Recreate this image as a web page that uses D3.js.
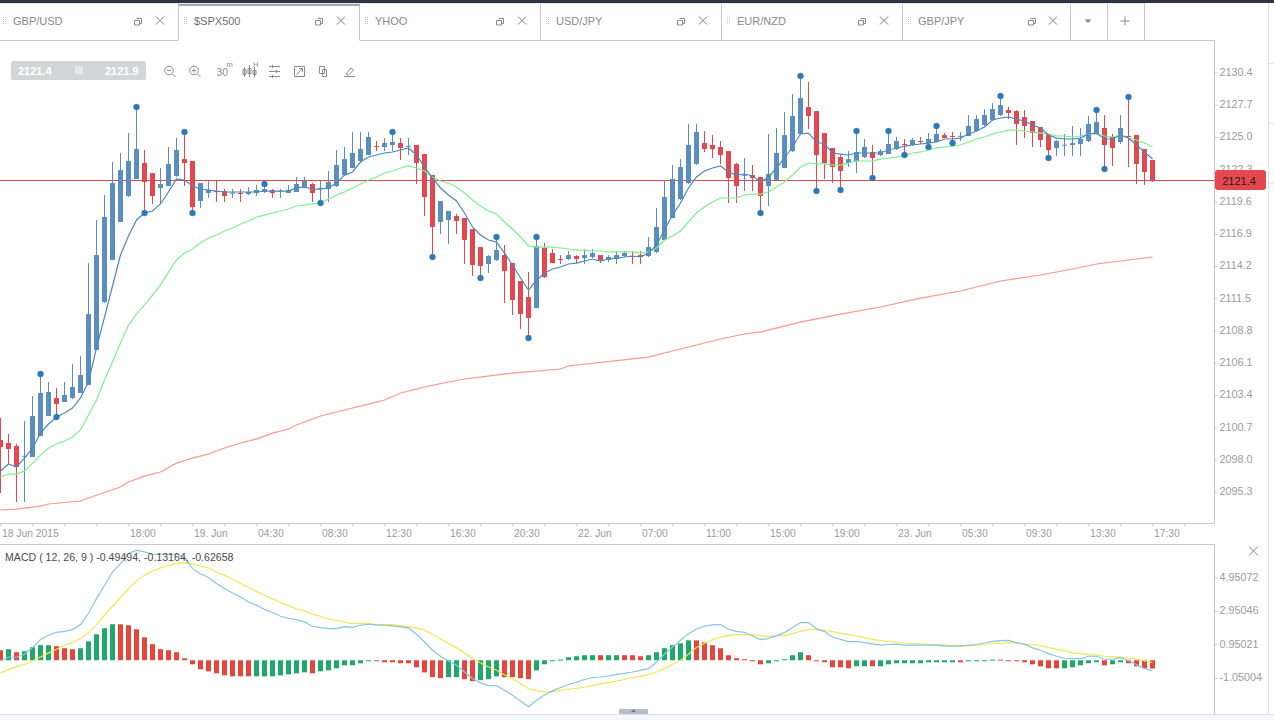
<!DOCTYPE html>
<html>
<head>
<meta charset="utf-8">
<title>$SPX500 chart</title>
<script src="https://cdn.jsdelivr.net/npm/d3@7/dist/d3.min.js"></script>
<style>
html,body{margin:0;padding:0;background:#fff;overflow:hidden}
svg{display:block}
text{font-family:"Liberation Sans",Arial,sans-serif;font-size:11px}
</style>
</head>
<body>
<svg id="screen" width="1274" height="720"></svg>
<script>
// Candle series, one entry per bar
const opens = [
2099.62,2099.37,2099.12,2098.28,2098.20,2099.95,2101.63,2103.14,2102.80,2103.14,
2103.56,2104.23,2107.16,2111.18,2114.70,2117.88,2120.06,2121.48,2122.82,2121.98,
2120.73,2120.89,2121.73,2123.15,2122.99,2119.64,2120.31,2120.47,2120.47,2120.31,
2120.31,2120.22,2120.31,2120.39,2120.56,2120.47,2120.31,2120.39,2120.73,2121.06,
2120.73,2120.64,2120.89,2121.81,2122.40,2122.99,2123.49,2124.24,2124.16,2124.33,
2124.49,2124.24,2124.33,2123.57,2121.81,2117.88,2118.05,2118.38,2118.21,2117.29,
2115.78,2114.36,2114.70,2115.11,2114.44,2112.94,2111.60,2110.67,2115.70,2115.28,
2114.78,2114.78,2115.03,2114.86,2114.95,2115.11,2114.70,2114.78,2115.03,2115.03,
2115.11,2115.03,2115.37,2116.37,2118.21,2119.80,2121.14,2122.74,2124.49,2124.33,
2124.16,2123.82,2122.74,2121.81,2121.81,2121.65,2120.89,2121.40,2122.40,2123.82,
2125.25,2127.51,2127.17,2125.33,2124.08,2123.32,2122.82,2122.99,2123.32,2123.74,
2123.49,2123.57,2123.99,2124.41,2124.33,2124.66,2124.49,2124.58,2125.16,2125.08,
2125.08,2125.08,2125.50,2126.00,2126.42,2126.84,2127.26,2127.17,2126.67,2126.34,
2125.83,2125.25,2124.08,2124.33,2124.33,2124.41,2124.66,2125.25,2125.75,2125.00,
2124.58,2125.08,2125.16,2123.99,2123.07];
const highs = [
2101.46,2100.12,2099.29,2101.21,2103.31,2105.15,2104.48,2103.98,2104.48,2105.99,
2106.65,2114.44,2118.05,2120.14,2122.90,2123.66,2125.33,2127.51,2123.91,2121.98,
2122.40,2124.16,2124.91,2125.42,2122.99,2121.14,2121.31,2121.40,2120.64,2120.64,
2120.64,2120.81,2120.98,2121.06,2120.64,2120.64,2120.98,2121.65,2121.65,2121.14,
2121.31,2122.15,2123.91,2124.16,2125.42,2125.42,2125.42,2124.66,2124.91,2125.42,
2124.91,2124.91,2124.33,2123.57,2121.81,2119.64,2118.80,2118.55,2118.21,2117.29,
2115.78,2115.11,2116.62,2115.95,2114.44,2112.94,2113.69,2116.62,2116.12,2115.62,
2115.11,2115.45,2115.11,2115.62,2115.62,2115.11,2115.11,2115.45,2115.45,2115.45,
2115.45,2116.62,2119.05,2121.40,2122.65,2123.15,2126.09,2126.09,2125.50,2125.16,
2124.66,2123.82,2122.82,2123.24,2122.65,2121.65,2125.25,2125.75,2127.09,2128.60,
2130.11,2129.60,2127.17,2125.33,2124.08,2123.49,2123.82,2125.50,2124.83,2124.33,
2123.99,2125.50,2125.00,2124.83,2124.91,2125.00,2125.33,2125.92,2125.33,2125.42,
2125.42,2126.84,2126.84,2127.34,2127.84,2128.43,2127.51,2127.26,2127.26,2126.34,
2125.83,2125.25,2124.75,2125.25,2125.92,2125.75,2126.76,2127.26,2126.84,2125.25,
2126.84,2128.35,2125.16,2123.99,2123.07];
const lows = [
2095.18,2097.61,2094.43,2094.43,2098.20,2099.95,2101.63,2101.55,2102.80,2103.05,
2103.56,2104.23,2107.16,2111.09,2114.70,2117.88,2119.97,2121.48,2118.63,2119.39,
2119.47,2120.89,2121.65,2120.89,2118.63,2119.05,2119.89,2119.55,2119.55,2119.89,
2119.55,2120.14,2120.06,2120.31,2119.89,2119.89,2120.31,2120.39,2120.73,2119.55,
2119.47,2119.55,2120.81,2121.81,2122.40,2122.82,2123.49,2123.82,2123.82,2123.82,
2123.07,2123.49,2121.06,2118.38,2114.95,2116.87,2116.04,2116.87,2114.36,2113.36,
2113.19,2113.61,2114.61,2111.09,2110.09,2108.92,2108.16,2110.67,2113.19,2114.44,
2114.36,2114.70,2114.44,2114.36,2114.86,2114.44,2114.53,2114.36,2114.95,2114.36,
2114.36,2114.95,2115.28,2116.37,2118.21,2119.72,2121.06,2122.65,2123.74,2123.24,
2122.74,2119.47,2119.47,2120.47,2120.47,2118.63,2119.22,2121.31,2122.40,2123.74,
2125.25,2125.67,2120.47,2121.48,2121.14,2120.56,2122.48,2121.98,2123.24,2121.56,
2123.41,2123.57,2123.91,2123.49,2124.24,2124.41,2124.16,2124.58,2124.91,2124.49,
2124.66,2125.08,2125.42,2125.92,2126.34,2126.76,2126.50,2124.33,2124.91,2124.16,
2124.16,2123.24,2123.41,2123.41,2123.41,2123.41,2124.58,2125.25,2122.32,2122.57,
2124.41,2122.48,2121.06,2120.98,2121.23];
const closes = [
2099.03,2098.87,2097.36,2098.30,2101.63,2103.56,2103.64,2102.64,2103.39,2104.06,
2105.06,2110.17,2115.11,2118.30,2121.14,2122.23,2122.99,2123.99,2121.23,2120.06,
2121.06,2122.74,2123.91,2122.82,2119.13,2121.14,2120.56,2120.39,2120.06,2120.33,
2120.31,2120.39,2120.56,2120.64,2120.31,2120.49,2120.56,2121.06,2121.31,2120.31,
2120.75,2121.23,2122.65,2123.15,2123.66,2123.99,2125.00,2124.24,2124.49,2124.58,
2124.08,2124.26,2122.82,2119.97,2117.46,2119.64,2118.80,2117.96,2116.37,2114.28,
2114.19,2115.03,2115.53,2113.77,2111.35,2110.17,2109.84,2115.87,2113.27,2114.44,
2114.78,2115.11,2114.78,2115.11,2115.28,2114.70,2114.95,2115.11,2115.28,2115.03,
2114.95,2115.78,2117.46,2119.97,2121.48,2122.48,2124.33,2125.42,2123.99,2123.99,
2123.49,2121.56,2120.89,2121.83,2121.56,2120.06,2121.90,2123.66,2125.16,2126.76,
2128.26,2126.76,2123.49,2122.82,2122.48,2122.15,2123.15,2123.74,2124.16,2123.24,
2123.82,2124.41,2124.66,2124.41,2124.75,2124.66,2124.83,2125.25,2124.91,2125.08,
2125.10,2125.92,2126.50,2126.84,2127.34,2127.68,2127.01,2126.09,2125.92,2125.33,
2124.75,2123.91,2124.66,2124.35,2124.49,2124.83,2126.09,2126.25,2124.33,2124.08,
2125.75,2125.08,2122.74,2122.07,2121.40];

// Bars that carry a fractal marker above the high or below the low
const pivotHighs = [5,17,23,33,49,62,67,100,107,111,117,125,137,141];
const pivotLows = [7,18,24,40,54,60,66,95,102,105,109,113,116,119,131,138];

// Moving averages, one value per bar
const fastAverage = [
2097.03,2097.61,2097.36,2098.11,2098.95,2100.20,2100.96,2101.55,2101.88,2102.30,
2103.14,2104.48,2107.33,2109.92,2112.52,2115.11,2116.71,2118.05,2118.63,2118.80,
2119.39,2120.39,2121.48,2121.40,2120.89,2120.64,2120.56,2120.47,2120.39,2120.39,
2120.39,2120.39,2120.39,2120.47,2120.47,2120.47,2120.47,2120.73,2120.81,2120.64,
2120.64,2120.73,2121.14,2121.81,2122.07,2122.90,2123.32,2123.49,2123.66,2123.74,
2123.91,2124.08,2123.49,2122.48,2121.56,2120.73,2120.14,2119.64,2118.63,2117.46,
2116.79,2116.37,2116.20,2115.28,2114.28,2113.19,2112.18,2113.02,2113.61,2113.94,
2114.11,2114.36,2114.44,2114.61,2114.78,2114.61,2114.78,2114.86,2114.95,2115.03,
2114.95,2115.28,2115.95,2117.21,2118.46,2119.47,2120.73,2121.65,2122.15,2122.40,
2122.57,2122.07,2121.81,2121.90,2121.73,2121.23,2121.65,2122.40,2123.24,2124.16,
2125.25,2125.33,2124.58,2124.41,2123.66,2123.57,2123.49,2123.66,2123.66,2123.66,
2123.66,2123.91,2124.08,2124.24,2124.33,2124.41,2124.49,2124.58,2124.83,2124.83,
2124.91,2125.25,2125.50,2125.83,2126.42,2126.59,2126.67,2126.50,2126.34,2126.00,
2125.75,2125.16,2124.91,2124.83,2124.83,2124.91,2125.25,2125.33,2124.83,2124.83,
2125.16,2124.91,2124.33,2123.74,2123.15];
const slowAverage = [
2096.52,2096.77,2096.77,2097.03,2097.69,2098.36,2098.95,2099.29,2099.54,2099.87,
2100.46,2101.71,2102.97,2104.64,2106.15,2107.74,2109.25,2110.17,2110.93,2111.76,
2112.60,2113.69,2114.70,2115.28,2115.62,2116.12,2116.54,2116.79,2117.12,2117.38,
2117.71,2117.96,2118.30,2118.46,2118.63,2118.80,2118.97,2119.22,2119.30,2119.39,
2119.47,2119.80,2120.14,2120.39,2120.73,2121.06,2121.40,2121.65,2121.98,2122.15,
2122.40,2122.57,2122.40,2122.15,2121.65,2121.31,2121.14,2120.81,2120.31,2119.72,
2119.22,2118.80,2118.55,2117.88,2117.29,2116.62,2115.87,2115.78,2115.78,2115.78,
2115.70,2115.62,2115.53,2115.53,2115.45,2115.45,2115.37,2115.37,2115.37,2115.37,
2115.28,2115.37,2115.70,2116.37,2116.71,2117.12,2117.88,2118.63,2119.13,2119.55,
2119.89,2119.89,2119.89,2120.14,2120.22,2120.22,2120.39,2120.81,2121.23,2121.81,
2122.48,2122.82,2122.74,2122.74,2122.65,2122.65,2122.82,2122.99,2122.99,2122.99,
2123.15,2123.24,2123.32,2123.41,2123.66,2123.74,2123.91,2124.08,2124.16,2124.24,
2124.33,2124.58,2124.83,2125.00,2125.25,2125.42,2125.58,2125.58,2125.50,2125.42,
2125.33,2125.25,2125.08,2125.08,2125.00,2125.08,2125.25,2125.25,2125.08,2125.00,
2125.16,2124.91,2124.75,2124.49,2124.16];
// The long average is read at these bars only
const longAverageBars = [0,2,5,6,10,11,15,16,18,20,22,24,26,28,30,32,34,36,37,40,44,46,48,50,53,56,58,64,70,71,81,83,90,93,95,100,105,110,115,120,125,130,134,137,144];
const longAverage = [
2093.76,2093.84,2094.09,2094.26,2094.51,2094.76,2095.68,2096.10,2096.60,2096.94,
2097.69,2098.11,2098.45,2098.95,2099.37,2099.70,2100.20,2100.54,2100.88,2101.63,
2102.30,2102.63,2102.97,2103.56,2104.06,2104.48,2104.73,2105.23,2105.57,2105.82,2106.57,
2106.91,2108.08,2108.50,2108.67,2109.50,2110.17,2110.76,2111.51,2112.10,2112.94,
2113.44,2113.94,2114.36,2114.95];

// MACD (12, 26, 9) indicator series
const histogram = [
0.60,0.66,0.48,0.54,0.78,0.90,0.90,0.84,0.72,0.66,
0.72,1.13,1.55,1.91,2.15,2.15,2.09,1.85,1.37,0.96,
0.66,0.60,0.48,0.12,-0.24,-0.54,-0.66,-0.78,-0.90,-0.96,
-0.96,-0.96,-0.96,-0.96,-0.96,-0.90,-0.84,-0.78,-0.72,-0.78,
-0.66,-0.60,-0.48,-0.30,-0.30,-0.18,-0.06,-0.06,-0.12,-0.12,
-0.18,-0.18,-0.42,-0.72,-1.01,-1.07,-1.01,-1.01,-1.13,-1.25,
-1.19,-1.13,-0.96,-1.01,-1.01,-1.07,-1.13,-0.60,-0.24,-0.06,
0.04,0.18,0.24,0.30,0.30,0.30,0.30,0.30,0.30,0.30,
0.24,0.30,0.48,0.72,0.90,1.01,1.19,1.19,1.07,0.90,
0.72,0.30,0.12,0.06,-0.06,-0.24,-0.18,-0.06,0.06,0.30,
0.48,0.30,-0.06,-0.12,-0.42,-0.42,-0.48,-0.36,-0.36,-0.36,
-0.36,-0.24,-0.18,-0.18,-0.18,-0.18,-0.12,-0.12,-0.12,-0.12,
-0.12,-0.04,-0.04,-0.04,0.04,0.04,-0.04,-0.06,-0.12,-0.24,
-0.36,-0.48,-0.48,-0.48,-0.42,-0.30,-0.18,-0.12,-0.30,-0.24,
-0.12,-0.18,-0.36,-0.48,-0.49494];
// 1 marks a green histogram bar, 0 a red one
const histogramGreen = [
0,1,0,1,1,1,1,0,0,0,1,1,1,1,1,0,0,0,0,0,
0,0,0,0,0,0,0,0,0,0,0,0,1,1,1,1,1,1,1,0,
1,1,1,1,1,1,1,0,0,0,0,0,0,0,0,0,1,1,0,0,
1,1,1,0,0,0,0,1,1,1,1,1,1,1,1,0,1,1,0,0,
0,1,1,1,1,1,1,0,0,0,0,0,0,0,0,0,1,1,1,1,
1,0,0,0,0,0,0,1,1,0,1,1,1,1,1,1,1,1,1,1,
0,1,1,1,1,0,0,0,0,0,0,0,0,1,1,1,1,1,0,1,
1,0,0,0,0];
const macdLine = [
-0.04,0.18,0.18,0.36,0.76,1.23,1.49,1.67,1.73,1.83,
2.13,2.79,3.68,4.48,5.27,5.77,6.37,6.57,6.47,6.33,
6.33,6.33,6.33,6.13,5.47,5.17,4.94,4.58,4.28,4.02,
3.78,3.48,3.28,3.04,2.85,2.63,2.51,2.43,2.29,2.03,
1.95,1.89,1.89,2.01,1.97,2.09,2.15,2.11,2.09,2.05,
1.99,1.93,1.55,1.09,0.60,0.24,-0.04,-0.30,-0.70,-1.09,
-1.35,-1.51,-1.51,-1.79,-2.09,-2.43,-2.77,-2.39,-2.07,-1.83,
-1.63,-1.45,-1.31,-1.15,-1.03,-1.00,-0.94,-0.84,-0.78,-0.70,
-0.60,-0.50,-0.10,0.36,0.80,1.19,1.59,1.87,2.03,2.11,
2.13,1.85,1.73,1.67,1.45,1.23,1.29,1.47,1.65,1.95,
2.25,2.25,1.89,1.71,1.39,1.25,1.11,1.11,1.05,0.98,
0.90,0.94,0.96,0.90,0.90,0.90,0.90,0.90,0.84,0.84,
0.84,0.90,0.94,1.03,1.13,1.17,1.19,1.05,0.96,0.74,
0.60,0.40,0.24,0.12,0.10,0.10,0.24,0.24,0.06,0.06,
0.16,-0.02,-0.26,-0.50,-0.62658];
const signalLine = [
-0.76,-0.56,-0.38,-0.24,-0.04,0.20,0.44,0.66,0.90,1.09,
1.29,1.65,2.13,2.69,3.22,3.74,4.28,4.74,5.07,5.33,
5.51,5.67,5.77,5.83,5.73,5.63,5.51,5.27,5.07,4.84,
4.58,4.34,4.10,3.88,3.68,3.46,3.26,3.06,2.95,2.75,
2.63,2.45,2.39,2.27,2.19,2.19,2.19,2.13,2.13,2.13,
2.07,2.01,1.93,1.79,1.55,1.29,1.00,0.74,0.44,0.10,
-0.16,-0.40,-0.60,-0.86,-1.09,-1.39,-1.69,-1.83,-1.89,-1.87,
-1.79,-1.73,-1.67,-1.61,-1.51,-1.41,-1.33,-1.25,-1.15,-1.03,
-0.96,-0.84,-0.70,-0.50,-0.24,0.00,0.36,0.76,1.00,1.23,
1.39,1.49,1.53,1.53,1.53,1.47,1.41,1.47,1.47,1.59,
1.73,1.83,1.83,1.79,1.71,1.59,1.53,1.45,1.37,1.25,
1.17,1.11,1.09,1.03,1.00,0.98,0.94,0.92,0.92,0.86,
0.86,0.86,0.90,0.94,1.00,1.00,1.05,1.00,0.96,0.94,
0.88,0.76,0.66,0.56,0.44,0.38,0.34,0.32,0.24,0.20,
0.20,0.12,0.08,-0.04,-0.13164];

// Axis tick values and labels
const priceTicks = [2095.3,2098.0,2100.7,2103.4,2106.1,2108.8,2111.5,2114.2,2116.9,2119.6,2122.3,2125.0,2127.7,2130.4];
const macdTicks = [-1.05004,0.95021,2.95046,4.95072];
const timeLabelBars = [0,16,24,32,40,48,56,64,72,80,88,96,104,112,120,128,136,144];
const timeLabels = ["18 Jun 2015","18:00","19. Jun","04:30","08:30","12:30","16:30","20:30","22. Jun","07:00","11:00","15:00","19:00","23. Jun","05:30","09:30","13:30","17:30"];
const timeTickBars = d3.range(0,149,4);

const lastPrice = 2121.4;
const askPrice = 2121.9;
const tabNames = ["GBP/USD","$SPX500","YHOO","USD/JPY","EUR/NZD","GBP/JPY"];
const activeTab = 1;

const COLORS = {
  border:"#c5c8ce", axisText:"#9b9b9b", tabText:"#8a8a8a", icon:"#8c8c8c",
  up:"#5b8ec0", down:"#e5474f", pivot:"#2e77b8",
  fast:"#4c88be", slow:"#7cf08c", long:"#f9958c",
  macd:"#86c6e0", signal:"#efe653", barGreen:"#1fa968", barRed:"#e6453a"
};

const svg = d3.select("#screen");

// Indicator numbers are printed with a plain hyphen for the sign
const plainLocale = d3.formatLocale({decimal:".",thousands:",",grouping:[3],currency:["$",""],minus:"-"});
const fmt1 = plainLocale.format(".1f");
const fmt5 = plainLocale.format(".5f");

// Shared scales: bar index to x, price and indicator values to y
const x = d3.scaleLinear().domain([0,144]).range([0.5,1152.5]);
const y = d3.scaleLinear().domain([2095.3,2130.4]).range([491.6,72.5]);
const my = d3.scaleLinear().domain([-1.05004,4.95072]).range([677.85,577.35]);
const crisp = v => Math.round(v) + 0.5;

// ---------- Window chrome ----------
const chrome = svg.append("g");
chrome.append("rect").attr("width",1274).attr("height",3).attr("fill","#2e3442");
chrome.append("rect").attr("y",714).attr("width",1274).attr("height",6).attr("fill","#f4f7fb");

function hLine(g, x1, x2, yy, c){ g.append("line").attr("x1",x1).attr("x2",x2).attr("y1",yy).attr("y2",yy).attr("stroke",c||COLORS.border); }
function vLine(g, xx, y1, y2, c){ g.append("line").attr("x1",xx).attr("x2",xx).attr("y1",y1).attr("y2",y2).attr("stroke",c||COLORS.border); }

// Tab strip
const tabStarts = [-2.5,178.5,359.5,540.5,721.5,902.5];
const closeOffset = [162.5,162.5,162.5,162.5,162.5,150.5];
const popOffset = [140.5,140.5,140.5,140.5,140.5,129.5];
hLine(chrome,0,178.5,40.5); hLine(chrome,359.5,1214.5,40.5);
hLine(chrome,0,1144.5,3.5,"#e3e5e8");
[178.5,359.5,540.5,721.5,902.5,1070.5,1107.5,1144.5].forEach(px => vLine(chrome,px,3,40));
chrome.append("rect").attr("x",178.5).attr("y",4).attr("width",181).attr("height",2).attr("fill","#a6a9af");

function crossIcon(g, cx, cy, r){
  g.append("path").attr("d",`M${cx-r},${cy-r}L${cx+r},${cy+r}M${cx+r},${cy-r}L${cx-r},${cy+r}`)
    .attr("stroke","#7d7d7d").attr("fill","none").attr("stroke-width",1);
}
tabNames.forEach((name,i) => {
  const s = tabStarts[i], g = chrome.append("g");
  // drag grip
  for (let r=0;r<4;r++) for (let c=0;c<2;c++)
    g.append("rect").attr("x",s+5.5+c*2).attr("y",17+r*2).attr("width",1).attr("height",1).attr("fill","#c6c8cb");
  g.append("text").attr("x",s+15.5).attr("y",25).attr("fill",i===activeTab?"#6f6f6f":COLORS.tabText).text(name);
  // pop-out glyph
  const px = s+popOffset[i];
  g.append("path").attr("d",`M${px-1.5},18.5h5v5h-2M${px-3.5},20.5h5v4.5h-5z`).attr("fill","none").attr("stroke","#8a8a8a");
  crossIcon(g,s+closeOffset[i],20.5,4);
});
chrome.append("path").attr("d","M1084.5,19.5h7l-3.5,3.5z").attr("fill","#8a8a8a");
chrome.append("path").attr("d","M1125,16.5v9M1120.5,21h9").attr("stroke","#8a8a8a").attr("fill","none");

// Panel frames and the right-hand gutter
vLine(chrome,1214.5,40,523);
vLine(chrome,1214.5,544,714);
hLine(chrome,0,1214.5,523.5);
hLine(chrome,0,1214.5,544.5);
hLine(chrome,0,1274,714.5,"#dcdfe4");
vLine(chrome,1268.5,3,714,"#d9dce1");
[63.5,123.5,183.5].forEach(v => hLine(chrome,1269,1274,v,"#e3e5e8"));
crossIcon(chrome,1253.5,551,4.5);

// Panel resize handle
chrome.append("rect").attr("x",619).attr("y",709).attr("width",29).attr("height",5).attr("fill","#b9bdc9");
chrome.append("path").attr("d","M631,712h5l-2.5,-2.5z").attr("fill","#6f7480");

// ---------- Price panel ----------
svg.append("clipPath").attr("id","priceClip").append("rect").attr("width",1214).attr("y",41).attr("height",482);
svg.append("clipPath").attr("id","macdClip").append("rect").attr("width",1214).attr("y",545).attr("height",169);

const priceAxis = svg.append("g").attr("transform","translate(1214.5,0)")
  .call(d3.axisRight(y).tickValues(priceTicks).tickFormat(fmt1).tickSize(3).tickPadding(2));
priceAxis.select(".domain").remove();
priceAxis.selectAll("line").attr("stroke",COLORS.border);
priceAxis.selectAll("text").attr("fill",COLORS.axisText).attr("dy","0.27em").style("font-size","10.8px");

const timeAxis = svg.append("g").attr("transform","translate(0,523.5)")
  .call(d3.axisBottom(x).tickValues(timeTickBars).tickSize(3).tickFormat(b => {
    const k = timeLabelBars.indexOf(b);
    return k < 0 ? "" : timeLabels[k];
  }));
timeAxis.select(".domain").remove();
timeAxis.selectAll("line").attr("stroke",COLORS.border);
timeAxis.selectAll("text").attr("text-anchor","start").attr("x",1).attr("y",6).attr("fill",COLORS.axisText).style("font-size","10.3px");

const pricePanel = svg.append("g").attr("clip-path","url(#priceClip)");

// Current price rule sits under the candles
pricePanel.append("rect").attr("x",0).attr("width",1214)
  .attr("y",crisp(y(lastPrice))-0.5).attr("height",1).attr("fill",COLORS.down);

const candles = opens.map((o,i) => ({i,o,h:highs[i],l:lows[i],c:closes[i],up:closes[i]>o}));
const candleG = pricePanel.selectAll("g.candle").data(candles).join("g").attr("class","candle")
  .attr("fill",d => d.up?COLORS.up:COLORS.down);
candleG.append("rect").attr("class","wick")
  .attr("x",d => x(d.i)-0.5).attr("width",1)
  .attr("y",d => y(d.h)).attr("height",d => y(d.l)-y(d.h));
candleG.append("rect").attr("class","body")
  .attr("x",d => x(d.i)-2.5).attr("width",5)
  .attr("y",d => y(Math.max(d.o,d.c)))
  .attr("height",d => Math.max(1,Math.abs(y(d.o)-y(d.c))));

const lineOn = (yScale, xOf) => d3.line().x(xOf).y(d => yScale(d));
const byIndex = (d,i) => x(i);

pricePanel.append("path").datum(longAverage).attr("d",lineOn(y,(d,i)=>x(longAverageBars[i])))
  .attr("fill","none").attr("stroke",COLORS.long).attr("stroke-width",1.2);
pricePanel.append("path").datum(slowAverage).attr("d",lineOn(y,byIndex))
  .attr("fill","none").attr("stroke",COLORS.slow).attr("stroke-width",1.2);
pricePanel.append("path").datum(fastAverage).attr("d",lineOn(y,byIndex))
  .attr("fill","none").attr("stroke",COLORS.fast).attr("stroke-width",1.2);

// Fractal markers at the bar extremes
const pivots = pivotHighs.map(i => ({i,v:highs[i]})).concat(pivotLows.map(i => ({i,v:lows[i]})));
pricePanel.selectAll("circle.pivot").data(pivots).join("circle").attr("class","pivot")
  .attr("cx",d => x(d.i)).attr("cy",d => y(d.v)).attr("r",3)
  .attr("fill",COLORS.pivot).attr("stroke",COLORS.pivot).attr("stroke-opacity",0.35).attr("stroke-width",1);

// Last-price tag on the axis
const tagY = crisp(y(lastPrice));
svg.append("rect").attr("x",1215).attr("y",tagY-10.5).attr("width",51).attr("height",20).attr("rx",3).attr("fill",COLORS.down);
svg.append("text").attr("x",1239).attr("y",tagY+4).attr("text-anchor","middle").attr("fill","#2a1a1c").text(fmt1(lastPrice));

// ---------- Toolbar over the price panel ----------
const bar = svg.append("g");
bar.append("rect").attr("x",11).attr("y",61).attr("width",135).attr("height",19).attr("rx",2).attr("fill","#d3d6d6");
bar.append("rect").attr("x",75).attr("y",66).attr("width",8).attr("height",8).attr("fill","#e6e8e8");
bar.append("text").attr("x",18).attr("y",75).attr("fill","#fff").attr("font-weight","bold").text(fmt1(lastPrice));
bar.append("text").attr("x",105).attr("y",75).attr("fill","#fff").attr("font-weight","bold").text(fmt1(askPrice));

const icon = bar.append("g").attr("fill","none").attr("stroke",COLORS.icon);
function lens(cx, plus){
  icon.append("circle").attr("cx",cx).attr("cy",70.5).attr("r",4.3);
  icon.append("path").attr("d",`M${cx+3.2},73.7l3.3,3.3M${cx-2},70.5h4${plus?`M${cx},68.5v4`:""}`);
}
lens(169,false); lens(194,true);
bar.append("text").attr("x",216.5).attr("y",76).attr("fill",COLORS.icon).style("font-size","10.5px").text("30");
bar.append("text").attr("x",226.5).attr("y",67).attr("fill",COLORS.icon).style("font-size","7.5px").text("m");
bar.append("text").attr("x",253).attr("y",67).attr("fill",COLORS.icon).style("font-size","7.5px").text("H");
icon.append("path").attr("d","M244.5,67v10M249.5,65v12M254.5,67v10");
icon.append("path").attr("d","M243,69.5h3v5h-3zM248,68.5h3v5h-3zM253,70.5h3v4h-3z");
icon.append("path").attr("d","M269,66.5h11M269,71.5h11M269,76.5h11M272.5,65v3M276.5,70v3M272.5,75v3");
icon.append("path").attr("d","M294.5,66.5h10v10h-10zM296.5,74.5l6,-6M299,68.5h3.5v3.5");
icon.append("path").attr("d","M319.5,66.5h5v7h-5zM322.5,69.5h4v7h-4z");
icon.append("path").attr("d","M344,76.5h11M346,74l5,-6l2.5,2l-5,5z");

// ---------- MACD panel ----------
const macdAxis = svg.append("g").attr("transform","translate(1214.5,0)")
  .call(d3.axisRight(my).tickValues(macdTicks).tickFormat(fmt5).tickSize(3).tickPadding(2));
macdAxis.select(".domain").remove();
macdAxis.selectAll("line").attr("stroke",COLORS.border);
macdAxis.selectAll("text").attr("fill",COLORS.axisText).attr("dy","0.27em").style("font-size","10.8px");

const macdPanel = svg.append("g").attr("clip-path","url(#macdClip)");
macdPanel.selectAll("rect.hist").data(histogram).join("rect").attr("class","hist")
  .attr("x",(d,i) => x(i)-2.5).attr("width",5)
  .attr("y",d => Math.min(my(d),my(0)))
  .attr("height",d => Math.max(1,Math.abs(my(d)-my(0))))
  .attr("fill",(d,i) => histogramGreen[i]?COLORS.barGreen:COLORS.barRed);
macdPanel.append("path").datum(signalLine).attr("d",lineOn(my,byIndex))
  .attr("fill","none").attr("stroke",COLORS.signal).attr("stroke-width",1.2);
macdPanel.append("path").datum(macdLine).attr("d",lineOn(my,byIndex))
  .attr("fill","none").attr("stroke",COLORS.macd).attr("stroke-width",1.2);

svg.append("text").attr("x",5).attr("y",561).attr("fill","#4a4a4a").style("font-size","10.6px")
  .text(`MACD ( 12, 26, 9 ) ${fmt5(histogram[144])}, ${fmt5(signalLine[144])}, ${fmt5(macdLine[144])}`);
</script>
</body>
</html>
